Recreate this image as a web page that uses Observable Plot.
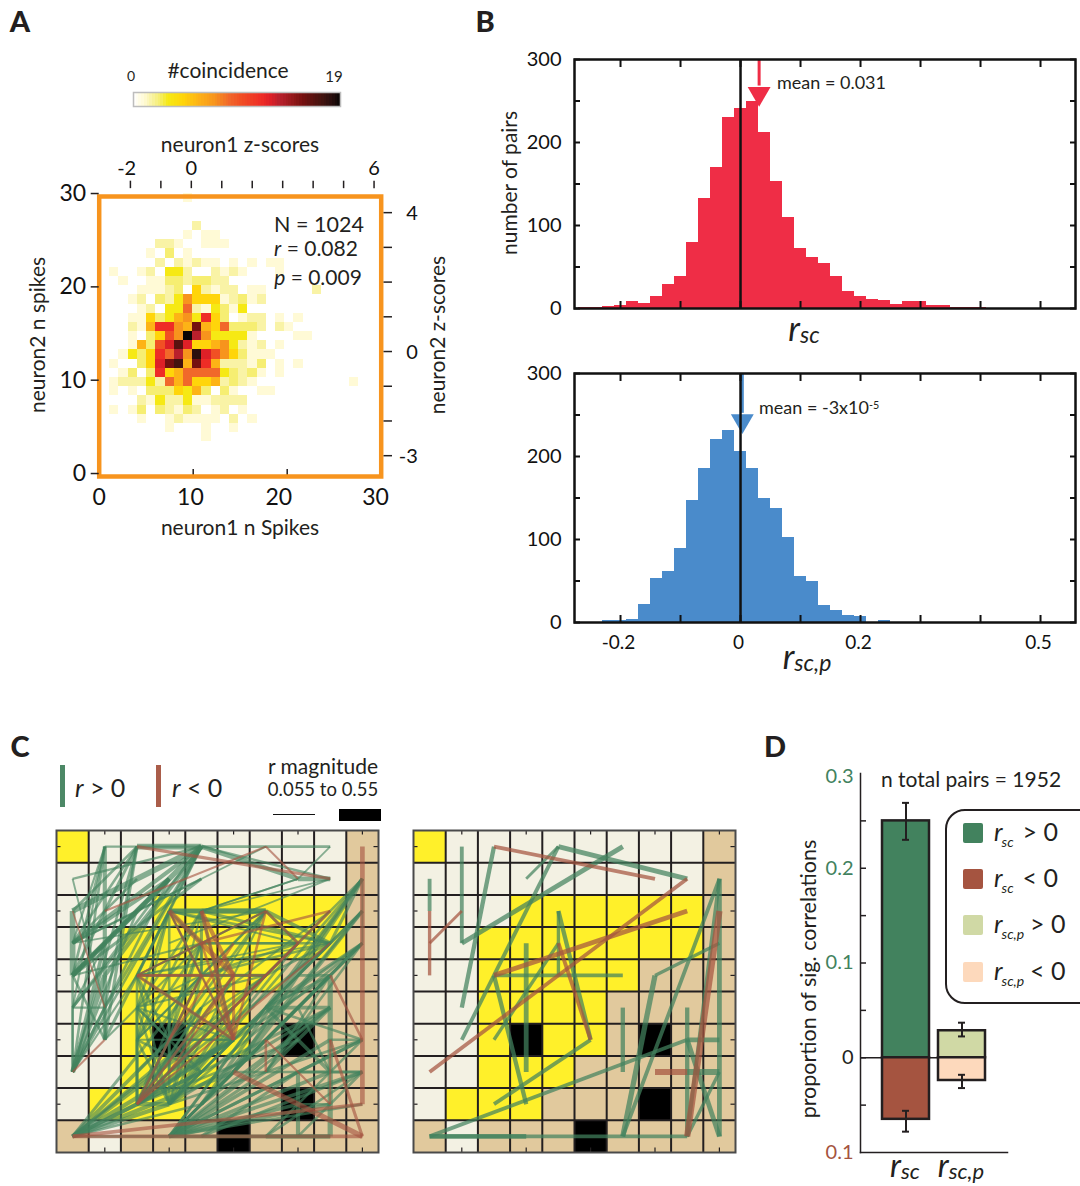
<!DOCTYPE html>
<html><head><meta charset="utf-8">
<script src="https://cdn.jsdelivr.net/npm/d3@7"></script>
<script src="https://cdn.jsdelivr.net/npm/@observablehq/plot@0.6"></script>
<style>
html,body{margin:0;padding:0;background:#fff}
#page{position:relative;width:1080px;height:1186px;overflow:hidden;font-family:Lato,"Open Sans",sans-serif;color:#231f20}
#page svg{position:absolute;background:transparent;overflow:visible;font-family:Lato,"Open Sans",sans-serif}
.lab{position:absolute;white-space:nowrap;line-height:1.15}
.lab sub{font-size:.68em;vertical-align:baseline;position:relative;top:.28em}
.lab sup{font-size:.6em;vertical-align:baseline;position:relative;top:-.5em}
.box{position:absolute}
</style></head><body><div id="page"></div>
<script>
// ---------- Panel A data ----------
const heatRows = [
 [30,{9:1}],
 [27,{10:2}],
 [26,{9:1,11:1,12:1}],
 [25,{6:2,7:2,8:1,11:1,12:1,13:1}],
 [24,{5:1,7:3,9:1}],
 [23,{6:2,8:2,9:1,10:2,11:1,12:1,14:1,16:1,18:1,19:1}],
 [22,{1:1,4:1,5:2,7:4,8:4,9:2,12:2,13:1,14:2,15:1,19:1}],
 [21,{2:1,5:1,6:1,7:3,8:3,9:2,10:3,11:3,12:2,13:2}],
 [20,{4:1,5:1,6:1,7:2,8:3,10:5,11:2,12:1,13:2,14:2,16:1,17:1,23:2}],
 [19,{3:1,4:2,6:3,7:2,8:4,9:7,10:5,11:5,12:5,13:1,14:2,15:3,16:1,17:2}],
 [18,{4:1,5:2,7:4,8:4,9:8,10:2,11:1,12:4,13:3,14:1,15:4}],
 [17,{3:1,4:1,5:5,6:3,7:4,8:6,9:7,10:4,11:10,12:5,13:3,15:1,16:2,17:2,19:1,21:1}],
 [16,{3:2,4:1,5:6,6:10,7:10,8:7,9:6,10:15,11:6,12:5,13:8,14:3,15:3,16:3,17:2,19:2,20:1}],
 [15,{3:1,5:3,6:5,7:9,8:7,9:19,10:12,11:7,12:4,13:4,14:4,15:4,16:1,21:1,22:1}],
 [14,{3:1,4:6,5:3,6:9,7:11,8:16,9:11,10:5,11:5,12:6,13:7,14:4,15:2,16:1,17:2,19:1}],
 [13,{2:1,3:4,4:3,5:5,6:10,7:8,8:12,9:7,10:18,11:11,12:9,13:7,14:5,15:3,16:1,17:1,18:1}],
 [12,{1:1,4:3,5:5,6:11,7:15,8:17,9:6,10:15,11:10,12:6,13:2,14:2,15:2,16:1,17:3,19:1,21:1}],
 [11,{2:1,3:3,5:3,6:10,7:5,8:6,9:8,10:8,11:8,12:8,13:4,14:3,15:2,16:3,17:1,19:1}],
 [10,{1:1,2:2,3:2,4:2,5:4,6:2,7:8,8:6,9:8,10:5,11:5,12:6,13:2,14:3,15:2,16:1,27:1}],
 [9,{1:1,3:1,5:3,6:3,7:3,8:5,9:4,10:6,11:3,13:3,14:1,17:1,18:1}],
 [8,{4:2,5:1,6:4,7:2,8:2,9:4,10:1,11:1,12:2,13:2,14:2,15:2}],
 [7,{1:1,3:1,4:3,6:3,7:2,8:1,9:3,10:2,12:1,13:2,15:1}],
 [6,{4:1,7:1,8:2,9:1,10:1,11:1,12:1,14:2,16:1}],
 [5,{7:1,11:1,14:1}],
 [4,{11:1}]
];
const heatDomain = d3.range(20);
const heatColors = ["#ffffff","#fffad6","#f9f3a6","#f6ee72","#f6e914","#ffd50a","#fdb316","#f7941d","#f1682a","#f15024","#ee2c26","#de2027","#b9202c","#a81c24","#901818","#751010","#5a1210","#44130f","#2a0f0e","#0a0505"];
const legendStops = [0,1,1.7,2.4,3.2,4.6,6,7.5,8.8,9.8,11.8,12.6,13.4,14,14.8,15.6,16.5,17.3,18.2,19];
const nSpikeTicks = [0,10,20,30];
const nSpikeLabelX = [0,9.7,19.1,29.4];
const zTopTicks = [-2,-1,0,1,2,3,4,5,6];
const zTopLabels = [-2,0,6];
const zRightTicks = [-3,-2,-1,0,1,2,3,4];
const zRightLabels = [-3,0,4];

// ---------- Panel B data ----------
const binCenters = [-0.26,-0.24,-0.22,-0.20,-0.18,-0.16,-0.14,-0.12,-0.10,-0.08,-0.06,-0.04,-0.02,0,0.02,0.04,0.06,0.08,0.10,0.12,0.14,0.16,0.18,0.20,0.22,0.24,0.26,0.28,0.30,0.32,0.34,0.36,0.38,0.40];
const rscCounts  = [1,1,3,4,8,6,14,29,39,79,132,170,230,241,250,212,153,110,72,62,54,38,21,14,11,10,5,9,8,4,4,1,1,1];
const rscpCounts = [0,0,2,3,4,22,53,61,89,147,186,221,231,206,186,150,137,103,56,50,20,15,8,7,0,2,0,0,0,0,0,0,0,0];
const histXTicks = [-0.2,-0.1,0,0.1,0.2,0.3,0.4,0.5];
const histXLabels = [-0.2,0,0.2,0.5];
const histYTicks = [0,50,100,150,200,250,300];
const histYLabels = [0,100,200,300];
const rscMean = 0.031, rscpMean = 0.003;

// ---------- Panel C data ----------
const cellRows = ["YCCCCCCCCT","CCCCCCCCCT","CCCYYYYYYT","CCYYYYYYYT","CCYYYYYTTT","CCYYYYTTTT","CCYKYYTKTT","CCYYYTTTTT","CYYYTTTKTT","TCTTTKTTTT"];
const cellColors = {Y:"#fff02a",C:"#f3f1e3",T:"#e1c99d",K:"#000000"};
const edgeTicks = [1.5,3.5,5.5,7.5,9.5];
// [col1,row1,col2,row2,|r|]
const leftPos = [
[1,0,4,0,.08],[2,0,4,0,.22],[4,0,0,2,.22],[4,0,0,3,.16],[4,0,0,4,.2],[4,0,1,5,.12],[4,0,0,1,.09],[4,0,1,6,.12],[4,0,0,7,.1],[4,0,8,0,.1],[4,0,7,1,.18],[4,0,8,1,.1],[4,0,2,4,.08],
[2,0,0,2,.1],[2,0,0,3,.1],[2,0,0,4,.12],[2,0,1,5,.1],[2,0,0,7,.1],[2,0,1,6,.12],[4,0,1,4,.16],[4,0,0,5,.1],[3,1,0,4,.14],[2,1,0,3,.1],
[1,0,1,6,.16],[1,0,0,4,.1],[1,0,0,5,.08],[1,0,0,7,.1],[1,0,0,3,.08],
[0,1,1,5,.07],[0,2,0,4,.22],[0,3,3,1,.14],[0,3,4,1,.1],[0,4,3,1,.18],[0,4,4,1,.12],[0,4,1,3,.12],[0,4,2,2,.1],[0,5,1,5,.08],[0,5,0,7,.08],[0,5,1,3,.08],[0,5,3,1,.1],
[0,7,1,3,.14],[0,7,1,4,.2],[0,7,0,4,.1],[0,7,2,2,.1],[0,7,3,1,.1],[0,7,1,5,.12],[1,5,1,6,.08],[1,6,0,4,.1],[0,7,2,4,.08],[1,6,4,3,.08],[0,4,4,3,.08],[0,3,6,2,.07],
[6,0,0,3,.07],[7,1,4,2,.07],[8,1,3,3,.07],[8,0,7,1,.07],[7,1,8,1,.18],
[3,2,6,2,.18],[4,2,6,2,.22],[3,2,4,2,.2],[3,2,4,3,.1],[3,2,8,3,.1],[3,2,7,3,.08],[3,2,2,4,.1],[3,2,2,5,.1],[3,2,2,6,.1],[3,2,3,6,.1],[3,2,4,4,.08],
[4,2,4,4,.12],[4,2,8,3,.12],[4,2,2,6,.1],[4,2,2,5,.1],[4,2,3,6,.08],[4,2,5,6,.1],[4,2,8,1,.07],[4,2,7,1,.07],
[6,2,8,3,.14],[6,2,2,4,.08],[6,2,3,6,.1],[6,2,4,4,.1],[6,2,2,6,.08],[6,2,7,3,.12],[6,2,4,3,.08],
[4,3,7,3,.1],[4,3,8,3,.1],[4,3,2,4,.08],[4,3,2,6,.1],[4,3,3,6,.1],[4,3,4,4,.08],[3,2,5,6,.06],[6,2,3,8,.08],[6,2,2,8,.08],[8,2,4,5,.08],[8,3,3,7,.1],[7,3,2,8,.1],[4,3,2,8,.1],
[2,4,6,4,.12],[2,4,2,8,.1],[2,4,3,8,.1],[2,4,3,6,.1],[2,4,5,6,.08],[2,4,7,3,.07],[2,4,8,3,.07],
[4,4,6,4,.1],[4,4,2,5,.08],[4,4,2,6,.08],[4,4,3,6,.08],[4,4,3,8,.1],[4,4,2,8,.1],[4,4,8,3,.1],[4,4,7,3,.1],
[6,4,2,5,.08],[6,4,3,6,.08],[6,4,2,8,.1],[6,4,3,8,.08],[6,4,8,3,.1],[6,4,7,3,.1],
[2,5,3,8,.1],[2,5,2,8,.12],[2,5,3,6,.1],[2,5,5,6,.08],[5,4,2,8,.12],[5,5,2,8,.14],[5,5,3,8,.12],
[2,6,2,8,.1],[2,6,3,8,.1],[3,6,3,8,.1],[3,6,2,8,.1],[3,6,5,6,.1],[5,6,2,8,.14],[5,6,3,8,.1],[5,6,2,6,.08],
[0,9,5,6,.16],[0,9,3,6,.14],[0,9,4,4,.12],[0,9,3,8,.16],[0,9,2,8,.16],[0,9,6,4,.12],[0,9,5,5,.12],[0,9,4,6,.14],[0,9,8,9,.1],[0,9,5,7,.16],[0,9,4,7,.14],[0,9,4,8,.1],
[3,9,9,7,.14],[3,9,8,6,.14],[3,9,9,6,.12],[3,9,7,8,.14],[3,9,8,5,.12],[3,9,6,7,.12],[3,9,7,7,.12],[3,9,5,7,.12],[3,9,8,4,.1],[3,9,6,5,.1],[3,9,8,9,.14],[3,9,7,6,.1],[3,9,9,8,.1],[3,9,8,7,.14],[3,9,8,8,.14],[3,9,7,5,.1],[4,9,7,7,.12],[4,9,9,7,.12],
[2,8,8,5,.12],[2,8,8,4,.1],[2,8,7,6,.1],[3,8,8,5,.12],[3,8,9,2,.1],[3,8,9,1,.1],[3,8,8,3,.1],[2,8,9,3,.1],[3,8,9,3,.1],[2,8,3,8,.16],[3,8,9,6,.1],[3,8,7,3,.1],
[9,1,5,7,.14],[9,1,4,8,.14],[9,1,3,9,.12],[9,2,5,7,.14],[9,2,4,8,.12],[9,2,6,5,.12],[9,3,6,5,.12],[9,3,5,7,.12],[9,3,4,8,.12],[9,3,3,9,.1],[9,3,6,7,.1],[9,1,6,4,.1],[9,1,8,3,.12],[9,1,9,3,.08],
[8,4,5,7,.12],[8,4,4,8,.12],[8,4,6,5,.1],[8,4,3,9,.1],[7,4,8,4,.1],[6,5,8,5,.14],[8,4,8,9,.2],[8,4,6,7,.1],[8,5,4,8,.1],
[7,7,9,7,.12],[5,7,9,7,.1],[6,5,8,7,.14],[8,5,6,7,.14],[7,5,8,7,.1],[9,6,6,5,.1],[9,6,7,7,.12],[9,6,7,8,.1],[8,6,9,6,.1],[9,7,7,9,.1],[9,7,6,9,.1],[7,7,7,9,.16],[7,8,6,9,.1],[6,9,8,9,.16],[7,8,8,8,.1],
[2,5,4,7,.1],[4,5,2,7,.1],[3,5,3,7,.12],[2,6,4,7,.1],[3,7,5,6,.12],[2,8,4,5,.12],[3,8,4,5,.1]
];
const leftNeg = [
[2,0,8,1,.12],[1,2,6,0,.08],[6,0,7,1,.08],[0,2,1,5,.06],[0,7,1,6,.08],[9,0,9,8,.18],[9,8,0,9,.14],[0,9,9,9,.14],[5,7,9,9,.2],[6,6,6,7,.1],[6,6,8,8,.08],[8,6,9,9,.12],[8,4,9,6,.1],[8,6,8,8,.08],
[8,2,2,8,.1],[8,3,2,8,.08],[3,2,5,4,.2],[3,2,5,6,.1],[4,2,5,4,.16],[4,2,5,6,.14],[2,4,5,6,.12],[2,4,4,4,.1],[2,4,6,4,.08],[6,2,7,3,.1],[7,3,5,5,.08],[5,6,4,3,.1],[5,6,5,4,.12],[5,6,6,2,.1],[4,3,8,2,.1],[2,4,6,2,.08],[2,8,4,4,.1],[2,8,5,4,.1],[3,6,5,3,.1],[3,7,5,4,.08]
];
const rightPos = [
[1,0,1,3,.16],[2,0,1,5,.18],[4,0,8,1,.2],[4,0,1,6,.16],[4,0,3,1,.12],[6,0,1,3,.2],[0,1,0,2,.16],[4,2,4,4,.14],[4,2,5,6,.18],[4,3,2,6,.14],[3,3,3,7,.2],[2,4,6,4,.16],[2,4,3,8,.18],[5,6,2,8,.16],[6,5,6,7,.18],[7,4,6,9,.22],[7,4,9,3,.14],[9,1,6,9,.16],[9,1,8,9,.16],[9,1,9,9,.2],[8,5,8,9,.18],[8,6,9,6,.2],[8,6,0,9,.16],[8,6,9,9,.2],[8,7,9,7,.24],[9,7,8,9,.14],[0,9,8,9,.16],[0,9,3,9,.2]
];
const rightNeg = [
[2,0,7,1,.16],[0,2,0,4,.14],[0,3,1,2,.12],[8,1,0,7,.16],[8,2,2,4,.2],[4,3,5,6,.16],[9,2,8,9,.26],[7,7,8,7,.24]
];

// ---------- Panel D data ----------
const dCats = ["rsc","rscp"];
const dPos  = [0.25,0.0285];
const dNeg  = [-0.065,-0.024];
const dPosErr = [[0.23,0.269],[0.0225,0.037]];
const dNegErr = [[-0.056,-0.078],[-0.018,-0.032]];
const dPosColors = ["#42825e","#d0d9a5"];
const dNegColors = ["#a55440","#fdd9bc"];
const dTicks = [-0.05,0,0.05,0.1,0.15,0.2,0.25];
const dTickLabels = [[0.297,"0.3","#42825e"],[0.2,"0.2","#42825e"],[0.1,"0.1","#42825e"],[0,"0","#231f20"],[-0.1,"0.1","#a55440"]];
const GREEN="#42825e", BROWN="#a55440", INK="#231f20", ORANGE="#f7941e";

// ---------- helpers ----------
const page=document.getElementById("page");
function place(el,left,top){el.style.left=left+"px";el.style.top=top+"px";page.appendChild(el);return el;}
function label(html,x,y,o={}){
  const d=document.createElement("div");d.className="lab";d.innerHTML=html;
  d.style.left=x+"px";d.style.top=y+"px";d.style.fontSize=(o.size||20)+"px";
  if(o.color)d.style.color=o.color;
  if(o.weight)d.style.fontWeight=o.weight;
  d.style.transform=(o.left?"translate(0,-50%)":"translate(-50%,-50%)")+(o.rot?` rotate(${o.rot}deg)`:"");
  page.appendChild(d);return d;
}
function box(x,y,w,h,css){const d=document.createElement("div");d.className="box";
  Object.assign(d.style,{left:x+"px",top:y+"px",width:w+"px",height:h+"px"},css);page.appendChild(d);return d;}
const colorScale={type:"linear",domain:heatDomain,range:heatColors};

// ---------- Panel letters ----------
label("A",20,21,{size:29,weight:900});label("B",485,21,{size:29,weight:900});
label("C",20,746,{size:29,weight:900});label("D",775,746,{size:29,weight:900});

// ---------- Panel A ----------
const heatCells=heatRows.flatMap(([row,cols])=>Object.entries(cols).map(([c,v])=>({col:+c,row,v})));
place(Plot.plot({
  width:470,height:390,marginLeft:98.7,marginRight:89.3,marginTop:66,marginBottom:44,
  x:{domain:[0,30],axis:null},y:{domain:[-0.64,29.36]},color:colorScale,
  marks:[
    Plot.rect(heatCells,{x1:d=>0.14+d.col*0.98,x2:d=>0.14+(d.col+1)*0.98,y1:d=>13.9+(d.row-15)*0.985,y2:d=>13.9+(d.row-14)*0.985,fill:"v",shapeRendering:"crispEdges"}),
    Plot.ruleX([10,20],{y1:-0.64,y2:0.1,stroke:INK,strokeWidth:1.5}),
    Plot.frame({stroke:ORANGE,strokeWidth:4.5}),
    Plot.text(nSpikeTicks,{x:(d,i)=>nSpikeLabelX[i],y:-2.95,text:d=>String(d),fontSize:23,fill:"#111"}),
    Plot.axisY({ticks:nSpikeTicks,tickSize:8,tickPadding:5,fontSize:23,fill:"#111",stroke:INK,strokeWidth:1.5,label:null,dy:3}),
    Plot.ruleX(zTopTicks,{x:z=>9.8+z*3.24,y1:30.2,y2:31,stroke:INK,strokeWidth:1.5}),
    Plot.text(zTopLabels,{x:z=>9.8+z*3.24-(z==-2?0.4:0),y:32.3,text:z=>String(z),fontSize:20,fill:"#111"}),
    Plot.ruleY(zRightTicks,{y:z=>12.75+z*3.72,x1:30.3,x2:31.2,stroke:INK,strokeWidth:1.5}),
    Plot.text(zRightLabels,{y:z=>12.75+z*3.72,x:33.9,text:z=>String(z),textAnchor:"end",fontSize:20,dy:1,fill:"#111"})
  ]
}),0,130);
// colour bar
place(Plot.plot({
  width:209,height:16,margin:1,x:{domain:[0,19],axis:null},y:{domain:[0,1],axis:null},
  color:{type:"linear",domain:legendStops,range:heatColors},
  marks:[
    Plot.rect(d3.range(0,19,0.25),{x1:d=>d,x2:d=>d+0.25,y1:0,y2:1,fill:d=>d+0.125,shapeRendering:"crispEdges"}),
    Plot.frame({stroke:"#bdbdbd",strokeWidth:1.5})
  ]
}),132,91);
label("#coincidence",228,70,{size:21});
label("0",131,76,{size:14});label("19",334,77,{size:15});
label("neuron1 z-scores",240,144,{size:21});
label("neuron1 n Spikes",240,527,{size:21});
label("neuron2 n spikes",37,335,{size:21,rot:-90});
label("neuron2 z-scores",437,335,{size:21,rot:-90});
label("N = 1024",319,224,{size:21.5});
label("<i>r</i> = 0.082",316,248,{size:21});
label("<i>p</i> = 0.009",318,277,{size:21});

// ---------- Panel B ----------
function hist(counts,color,showX,top,meanX,tipY,headY){
  const bars=binCenters.map((c,i)=>({c,n:counts[i]})).filter(d=>d.n>0);
  const H=showX?290:270;
  return place(Plot.plot({
    width:580,height:H,marginLeft:64,marginRight:15,marginTop:10,marginBottom:H-10-249,
    x:{domain:[-0.2767,0.5583]},y:{domain:[0,300]},
    marks:[
      Plot.rectY(bars,{x1:d=>d.c-0.01,x2:d=>d.c+0.01,y:"n",fill:color,shapeRendering:"crispEdges"}),
      Plot.ruleX([meanX],{y1:headY,y2:300,stroke:color,strokeWidth:3}),
      Plot.dot([meanX],{x:d=>d,y:(tipY+headY)/2,symbol:"triangle",r:8.5,rotate:180,fill:color,stroke:null}),
      Plot.ruleX([0],{stroke:"#111",strokeWidth:2.5}),
      Plot.axisX({anchor:"bottom",ticks:histXTicks,tickSize:-7,fill:"none",stroke:"#111",strokeWidth:2,label:null}),
      Plot.axisX({anchor:"top",ticks:histXTicks,tickSize:-7,fill:"none",stroke:"#111",strokeWidth:2,label:null}),
      Plot.axisY({anchor:"left",ticks:histYTicks,tickSize:-6,fill:"none",stroke:"#111",strokeWidth:2,label:null}),
      Plot.axisY({anchor:"right",ticks:histYTicks,tickSize:-6,fill:"none",stroke:"#111",strokeWidth:2,label:null}),
      Plot.axisY({anchor:"left",ticks:histYLabels,tickSize:0,tickPadding:13,fontSize:20,fill:"#111",stroke:"none",label:null}),
      ...(showX?[Plot.axisX({anchor:"bottom",ticks:histXLabels,tickFormat:d=>d===0?"0":String(d),tickSize:0,tickPadding:13,fontSize:19,dx:-2,fill:"#111",stroke:"none",label:null})]:[]),
      Plot.frame({stroke:"#111",strokeWidth:2.5})
    ]
  }),510,top);
}
hist(rscCounts,"#ef2d46",false,49,rscMean,250,268);
hist(rscpCounts,"#4a8bcb",true,363,rscpMean,234,252);
label("number of pairs",509,183,{size:21,rot:-90});
label("mean = 0.031",777,82,{size:18,left:true});
label("mean = -3x10<sup>-5</sup>",759,407,{size:18,left:true});
label("<i style='font-size:34px'>r</i><sub style='font-size:23px;font-style:italic;top:.1em'>sc</sub>",804,328);
label("<i style='font-size:34px'>r</i><sub style='font-size:23px;font-style:italic;top:.1em'>sc,p</sub>",807,656);

// ---------- Panel C ----------
function grid(pos,neg,left,widthPerR,opacity){
  const cells=cellRows.flatMap((s,r)=>[...s].map((k,c)=>({c,r,k})));
  const toEdge=sign=>a=>({x1:a[0]+.5,y1:a[1]+.5,x2:a[2]+.5,y2:a[3]+.5,m:a[4],sign});
  const edges=[...pos.map(toEdge(1)),...neg.map(toEdge(-1))];
  return place(Plot.plot({
    width:326,height:326,margin:2,
    x:{domain:[0,10],axis:null},y:{domain:[10,0],axis:null},
    marks:[
      Plot.rect(cells,{x1:"c",x2:d=>d.c+1,y1:"r",y2:d=>d.r+1,fill:d=>cellColors[d.k],shapeRendering:"crispEdges"}),
      Plot.ruleX(d3.range(1,10),{stroke:INK,strokeWidth:2}),
      Plot.ruleY(d3.range(1,10),{stroke:INK,strokeWidth:2}),
      Plot.ruleX(edgeTicks,{y1:0,y2:0.14,stroke:INK,strokeWidth:1.2}),
      Plot.ruleX(edgeTicks,{y1:9.86,y2:10,stroke:INK,strokeWidth:1.2}),
      Plot.ruleY(edgeTicks.map(v=>v-1),{x1:0,x2:0.14,stroke:INK,strokeWidth:1.2}),
      Plot.ruleY(edgeTicks.map(v=>v-1),{x1:9.86,x2:10,stroke:INK,strokeWidth:1.2}),
      Plot.link(edges,{x1:"x1",y1:"y1",x2:"x2",y2:"y2",stroke:d=>d.sign>0?GREEN:BROWN,strokeOpacity:opacity,strokeWidth:d=>d.m*widthPerR,strokeLinecap:"butt"}),
      Plot.frame({stroke:"#4a4a4a",strokeWidth:2})
    ]
  }),left,828);
}
grid(leftPos,leftNeg,54,26,0.62);
grid(rightPos,rightNeg,411,24,0.72);
box(59.5,765,5.5,42,{background:GREEN,opacity:.95});
box(155.5,765,5.5,42,{background:BROWN,opacity:.95});
label("<i>r</i> &gt; 0",75,787,{size:25,left:true});
label("<i>r</i> &lt; 0",172,787,{size:25,left:true});
label("r magnitude",323,766,{size:21});
label("0.055 to 0.55",323,790,{size:18.5});
box(273,814,42,1.2,{background:"#111"});
box(339,809,42,12,{background:"#000"});

// ---------- Panel D ----------
const dRows=dCats.map((cat,i)=>({cat,pos:dPos[i],neg:dNeg[i],pe:dPosErr[i],ne:dNegErr[i],pc:dPosColors[i],nc:dNegColors[i]}));
const dTop=773,dBottom=1152;
place(Plot.plot({
  width:207,height:dBottom-dTop+20,marginLeft:60,marginRight:0,marginTop:10,marginBottom:10,
  x:{type:"band",domain:dCats,range:[871.7-800,994.7-800],padding:0.158,axis:null},
  y:{domain:[-0.1,0.3]},
  marks:[
    Plot.ruleY([0],{stroke:INK,strokeWidth:1.5,insetRight:21}),
    Plot.barY(dRows,{x:"cat",y1:0,y2:"pos",fill:"pc",stroke:INK,strokeWidth:2.5}),
    Plot.barY(dRows,{x:"cat",y1:0,y2:"neg",fill:"nc",stroke:INK,strokeWidth:2.5}),
    Plot.ruleX(dRows,{x:"cat",y1:d=>d.pe[0],y2:d=>d.pe[1],stroke:INK,strokeWidth:2}),
    Plot.ruleX(dRows,{x:"cat",y1:d=>d.ne[0],y2:d=>d.ne[1],stroke:INK,strokeWidth:2}),
    ...[0,1].flatMap(k=>[
      Plot.tickY(dRows,{x:"cat",y:d=>d.pe[k],stroke:INK,strokeWidth:2,insetLeft:20,insetRight:20}),
      Plot.tickY(dRows,{x:"cat",y:d=>d.ne[k],stroke:INK,strokeWidth:2,insetLeft:20,insetRight:20})
    ]),
    Plot.axisY({anchor:"left",ticks:dTicks,tickSize:-6,fill:"none",stroke:INK,strokeWidth:1.5,label:null}),
    Plot.frame({anchor:"left",stroke:INK,strokeWidth:1.5}),
    Plot.frame({anchor:"bottom",stroke:INK,strokeWidth:1.5}),
    Plot.text(dTickLabels,{y:d=>d[0],text:d=>d[1],fill:d=>d[2],frameAnchor:"left",textAnchor:"end",dx:-7,fontSize:20})
  ]
}),800,dTop-10);
label("n total pairs = 1952",971,779,{size:21});
label("proportion of sig. correlations",808,979,{size:21.5,rot:-90});
const big="font-size:32px",small="font-size:22px;font-style:italic;top:.1em";
label(`<i style="${big}">r</i><sub style="${small}">sc</sub>`,905,1165);
label(`<i style="${big}">r</i><sub style="${small}">sc,p</sub>`,961,1165);
box(945,808.5,150,191,{border:"2.5px solid "+INK,borderRadius:"20px",background:"#fff",boxSizing:"content-box"});
const legendY=[832.5,879,925,972];
const legendFill=[GREEN,BROWN,"#d0d9a5","#fdd9bc"];
const legendSub=["sc","sc","sc,p","sc,p"];
const legendOp=["&gt; 0","&lt; 0","&gt; 0","&lt; 0"];
legendY.forEach((y,i)=>{
  box(962.5,y-10,20,20,{background:legendFill[i],borderRadius:"2px"});
  label(`<i style="font-size:25px">r</i><i style="font-size:14px;position:relative;top:6px;left:-1px;margin-right:${i<2?8:5}px">${legendSub[i]}</i><span style="font-size:25px">${legendOp[i]}</span>`,994,y-2,{left:true});
});
</script></body></html>
